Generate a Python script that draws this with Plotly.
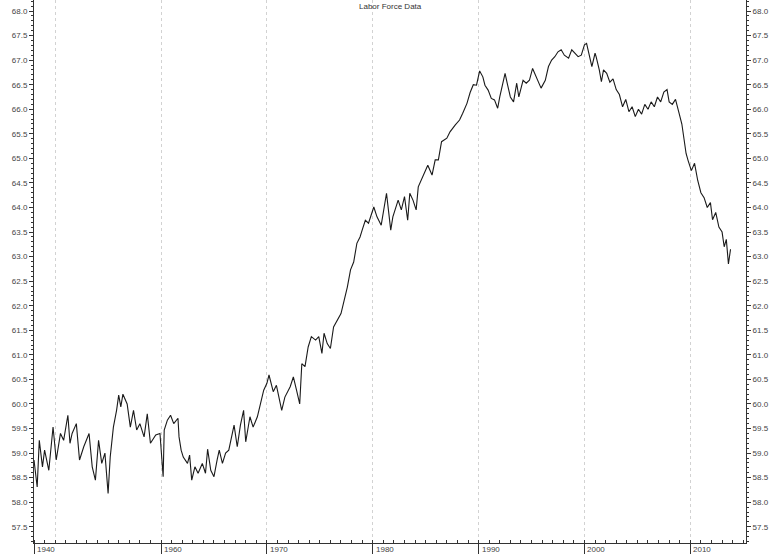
import plotly.graph_objects as go

# Decimal year and labor force participation rate (%)
years = [
    1948.0, 1948.3, 1948.5, 1948.8, 1949.0, 1949.4, 1949.8, 1950.1, 1950.5, 1950.8,
    1951.2, 1951.4, 1951.6, 1952.0, 1952.3, 1952.7, 1953.2, 1953.5, 1953.8, 1954.1,
    1954.4, 1954.7, 1955.0, 1955.2, 1955.5, 1955.8, 1956.0, 1956.2, 1956.4, 1956.8,
    1957.1, 1957.4, 1957.7, 1958.0, 1958.4, 1958.7, 1959.0, 1959.5, 1959.9, 1960.2,
    1960.3, 1960.6, 1960.9, 1961.2, 1961.6, 1961.7, 1961.9, 1962.1, 1962.5, 1962.7,
    1962.9, 1963.2, 1963.5, 1963.9, 1964.2, 1964.4, 1964.7, 1965.0, 1965.3, 1965.5,
    1965.8, 1966.1, 1966.4, 1966.7, 1966.9, 1967.2, 1967.5, 1967.8, 1968.0, 1968.4,
    1968.7, 1969.1, 1969.3, 1969.7, 1970.0, 1970.2, 1970.6, 1970.9, 1971.4, 1971.7,
    1972.2, 1972.5, 1972.8, 1973.1, 1973.3, 1973.6, 1973.9, 1974.2, 1974.6, 1974.9,
    1975.2, 1975.4, 1975.7, 1976.0, 1976.3, 1976.7, 1977.0, 1977.3, 1977.6, 1977.9,
    1978.2, 1978.5, 1978.8, 1979.0, 1979.3, 1979.6, 1980.1, 1980.4, 1980.8, 1981.3,
    1981.7, 1981.9, 1982.4, 1982.7, 1983.0, 1983.3, 1983.5, 1983.8, 1984.1, 1984.3,
    1984.6, 1984.9, 1985.2, 1985.6, 1985.9, 1986.2, 1986.5, 1987.0, 1987.3, 1987.8,
    1988.2, 1988.5, 1988.9, 1989.2, 1989.5, 1989.8, 1990.1, 1990.4, 1990.6, 1990.9,
    1991.2, 1991.5, 1991.8, 1992.0, 1992.2, 1992.5, 1992.7, 1993.0, 1993.3, 1993.6,
    1993.8, 1994.2, 1994.5, 1994.8, 1995.1, 1995.3, 1995.6, 1995.9, 1996.3, 1996.6,
    1996.9, 1997.2, 1997.5, 1997.8, 1998.1, 1998.5, 1998.8, 1999.1, 1999.4, 1999.7,
    2000.0, 2000.2, 2000.5, 2000.7, 2001.0, 2001.1, 2001.4, 2001.6, 2001.8, 2002.1,
    2002.4, 2002.7, 2003.0, 2003.3, 2003.6, 2003.9, 2004.2, 2004.5, 2004.8, 2005.1,
    2005.4, 2005.7, 2006.0, 2006.3, 2006.6, 2006.9, 2007.2, 2007.5, 2007.8, 2008.0,
    2008.3, 2008.6, 2008.9, 2009.2, 2009.4, 2009.6, 2009.8, 2010.1, 2010.4, 2010.7,
    2011.0, 2011.3, 2011.6, 2011.9, 2012.1, 2012.4, 2012.7, 2013.0, 2013.2, 2013.4,
    2013.6, 2013.8,
]
rate = [
    58.86, 58.31, 59.26, 58.72, 59.06, 58.65, 59.53, 58.86, 59.40, 59.26,
    59.77, 59.20, 59.40, 59.60, 58.86, 59.13, 59.40, 58.72, 58.45, 59.26,
    58.79, 59.00, 58.18, 58.92, 59.53, 59.87, 60.18, 59.94, 60.20, 60.00,
    59.53, 59.87, 59.47, 59.60, 59.33, 59.80, 59.20, 59.37, 59.40, 58.52,
    59.47, 59.67, 59.77, 59.60, 59.71, 59.33, 59.06, 58.92, 58.79, 58.96,
    58.45, 58.72, 58.59, 58.79, 58.59, 59.08, 58.65, 58.52, 58.86, 59.06,
    58.79, 59.00, 59.06, 59.33, 59.57, 59.13, 59.57, 59.87, 59.23, 59.74,
    59.53, 59.74, 59.94, 60.28, 60.42, 60.59, 60.25, 60.38, 59.87, 60.14,
    60.35, 60.55, 60.28, 60.00, 60.82, 60.76, 61.16, 61.37, 61.30, 61.37,
    61.03, 61.44, 61.23, 61.13, 61.57, 61.71, 61.84, 62.11, 62.38, 62.73,
    62.89, 63.27, 63.40, 63.54, 63.74, 63.68, 64.01, 63.81, 63.64, 64.29,
    63.54, 63.81, 64.15, 63.95, 64.22, 63.74, 64.29, 64.15, 63.95, 64.42,
    64.56, 64.69, 64.86, 64.66, 64.97, 64.97, 65.34, 65.41, 65.54, 65.68,
    65.78, 65.92, 66.12, 66.34, 66.50, 66.49, 66.78, 66.66, 66.49, 66.39,
    66.22, 66.19, 66.02, 66.25, 66.46, 66.73, 66.53, 66.25, 66.15, 66.53,
    66.25, 66.59, 66.53, 66.59, 66.83, 66.73, 66.59, 66.43, 66.59, 66.87,
    67.00, 67.07, 67.17, 67.21, 67.10, 67.04, 67.21, 67.14, 67.07, 67.10,
    67.31, 67.34, 67.07, 66.87, 67.14, 67.07, 66.80, 66.56, 66.80, 66.73,
    66.55, 66.62, 66.40, 66.30, 66.05, 66.20, 65.95, 66.05, 65.85, 66.00,
    65.90, 66.10, 66.00, 66.15, 66.05, 66.25, 66.15, 66.35, 66.40, 66.15,
    66.10, 66.20, 65.95, 65.70, 65.40, 65.10, 64.95, 64.75, 64.90, 64.55,
    64.30, 64.20, 64.00, 64.10, 63.75, 63.90, 63.60, 63.50, 63.20, 63.35,
    62.85, 63.15,
]

x_tickvals = [1948, 1950, 1960, 1970, 1980, 1990, 2000, 2010]
x_ticktext = ["1940", "", "1960", "1970", "1980", "1990", "2000", "2010"]
title_text = "Labor Force Data"

y_range = [57.17, 68.224]
x_range = [1948.0, 2015.26]
FONT = "Liberation Sans, Arial, sans-serif"
label_font = dict(family=FONT, size=8, color="#444444")

fig = go.Figure()
fig.add_trace(go.Scatter(x=years, y=rate, mode="lines",
                         line=dict(color="#1a1a1a", width=1.1), yaxis="y",
                         showlegend=False, hoverinfo="x+y"))
fig.add_trace(go.Scatter(x=years, y=rate, mode="lines",
                         line=dict(color="rgba(0,0,0,0)", width=1), yaxis="y2",
                         showlegend=False, hoverinfo="skip"))

annotations = [dict(text=title_text, x=0.5, xref="paper", y=1, yref="paper",
                    yanchor="top", showarrow=False,
                    font=dict(family=FONT, size=8, color="#333333"))]
for tv, tt in zip(x_tickvals, x_ticktext):
    if tt:
        annotations.append(dict(text=tt, x=tv, xref="x", y=0, yref="paper",
                                xanchor="left", yanchor="top", xshift=1, yshift=0,
                                showarrow=False, font=label_font))

fig.update_layout(
    width=780, height=555,
    margin=dict(l=34, r=34, t=0, b=12),
    paper_bgcolor="white", plot_bgcolor="white",
    showlegend=False,
    xaxis=dict(
        range=x_range, tickmode="array", tickvals=x_tickvals, ticktext=x_ticktext,
        showticklabels=False,
        ticks="outside", ticklen=10, tickcolor="#333333",
        showline=True, linecolor="#333333", linewidth=1,
        showgrid=True, gridcolor="#d2d2d2", griddash="dot", gridwidth=1,
        zeroline=False,
        minor=dict(tickmode="linear", tick0=1948, dtick=1, ticks="inside",
                   ticklen=3, tickcolor="#333333", showgrid=False),
    ),
    yaxis=dict(
        range=y_range, tickmode="linear", tick0=57.5, dtick=0.5, tickformat=".1f",
        ticks="outside", ticklen=4, tickcolor="#333333",
        tickfont=label_font, showline=True, linecolor="#333333", linewidth=1,
        showgrid=False, zeroline=False,
        minor=dict(tickmode="linear", tick0=57.5, dtick=0.1, ticks="outside",
                   ticklen=2, tickcolor="#333333", showgrid=False),
    ),
    yaxis2=dict(
        range=y_range, overlaying="y", side="right", tickmode="linear", tick0=57.5,
        dtick=0.5, tickformat=".1f", ticks="outside", ticklen=4, tickcolor="#333333",
        tickfont=label_font, showline=True, linecolor="#333333", linewidth=1,
        showgrid=False, zeroline=False,
        minor=dict(tickmode="linear", tick0=57.5, dtick=0.1, ticks="outside",
                   ticklen=2, tickcolor="#333333", showgrid=False),
    ),
    annotations=annotations,
)

fig.write_html("out.html", config={"displayModeBar": False},
               post_script="document.body.style.margin='0';document.body.style.overflow='hidden';")
